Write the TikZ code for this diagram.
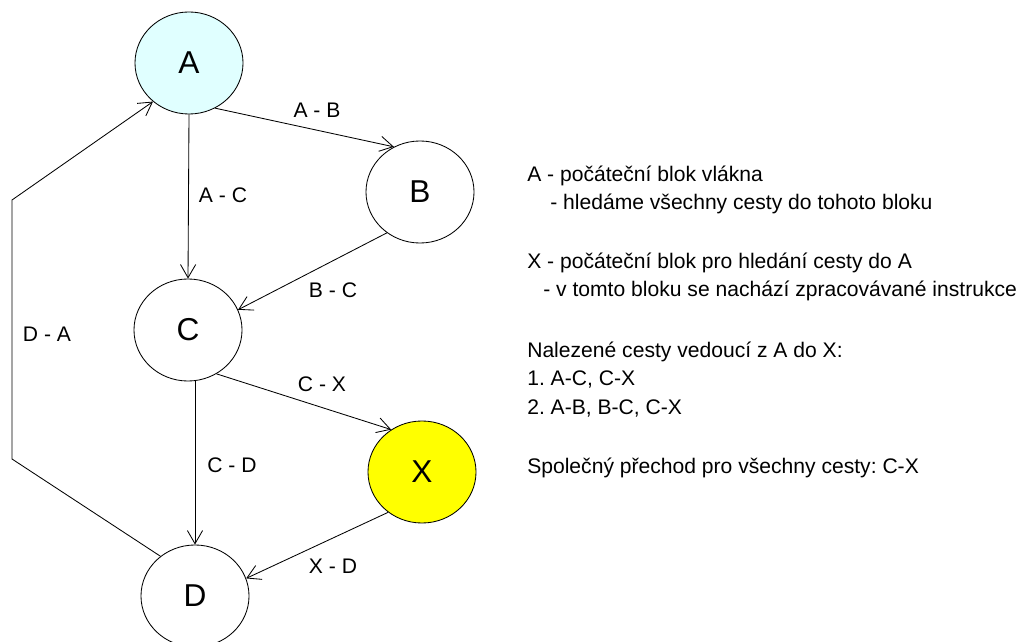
\documentclass[tikz,border=0pt]{standalone}
\usepackage{fontspec}
\setmainfont{Liberation Sans}
\usetikzlibrary{shapes.geometric,arrows.meta}
\definecolor{svetlemodra}{RGB}{224,255,255}
\definecolor{zluta}{RGB}{255,255,0}
\frenchspacing

\begin{document}
\begin{tikzpicture}[x=0.025cm,y=-0.025cm,
  blok/.style={ellipse,draw,line width=0.6pt,minimum width=2.7cm,minimum height=2.55cm,inner sep=0pt,font=\fontsize{22.5}{27}\selectfont},
  hrana/.style={line width=0.6pt,-{Straight Barb[length=3.3mm,width=3.8mm]}},
  popis/.style={font=\fontsize{15}{18}\selectfont,inner sep=0pt},
  radek/.style={popis,anchor=base west}]
\useasboundingbox (0,0) rectangle (1036,642);

\node[blok,fill=svetlemodra] (A) at (189,63) {A};
\node[blok] (B) at (420,192) {B};
\node[blok] (C) at (188,330) {C};
\node[blok,fill=zluta] (X) at (422,472) {X};
\node[blok] (D) at (195,596) {D};

\coordinate (k1) at (12,459);
\coordinate (k2) at (12,200);

\draw[hrana] (A.300) -- (B.120);
\draw[hrana] (A.south) -- (C.north);
\draw[hrana] (B.231) -- (C.22);
\draw[hrana] (C.303) -- (X.126);
\draw[hrana] (D.north |- C.south) -- (D.north);
\draw[hrana] (X.230) -- (D.19);
\draw[hrana] (D.131) -- (k1) -- (k2) -- (A.227);

\node[popis] (lAB) at (317,110) {A - B};
\node[popis] (lAC) at (223,195) {A - C};
\node[popis] (lBC) at (333,290) {B - C};
\node[popis] (lCX) at (322,384) {C - X};
\node[popis] (lCD) at (232,465) {C - D};
\node[popis] (lXD) at (333,566) {X - D};
\node[popis] (lDA) at (47,334) {D - A};

\node[radek] (t1) at (527,182) {A - počáteční blok vlákna};
\node[radek] (t2) at (550,210) {- hledáme všechny cesty do tohoto bloku};
\node[radek] (t3) at (527,269) {X - počáteční blok pro hledání cesty do A};
\node[radek] (t4) at (543,297) {- v tomto bloku se nachází zpracovávané instrukce};
\node[radek] (t5) at (527,357) {Nalezené cesty vedoucí z A do X:};
\node[radek] (t6) at (527,385) {1. A-C, C-X};
\node[radek] (t7) at (527,414) {2. A-B, B-C, C-X};
\node[radek] (t8) at (527,473) {Společný přechod pro všechny cesty: C-X};

\end{tikzpicture}
\end{document}
